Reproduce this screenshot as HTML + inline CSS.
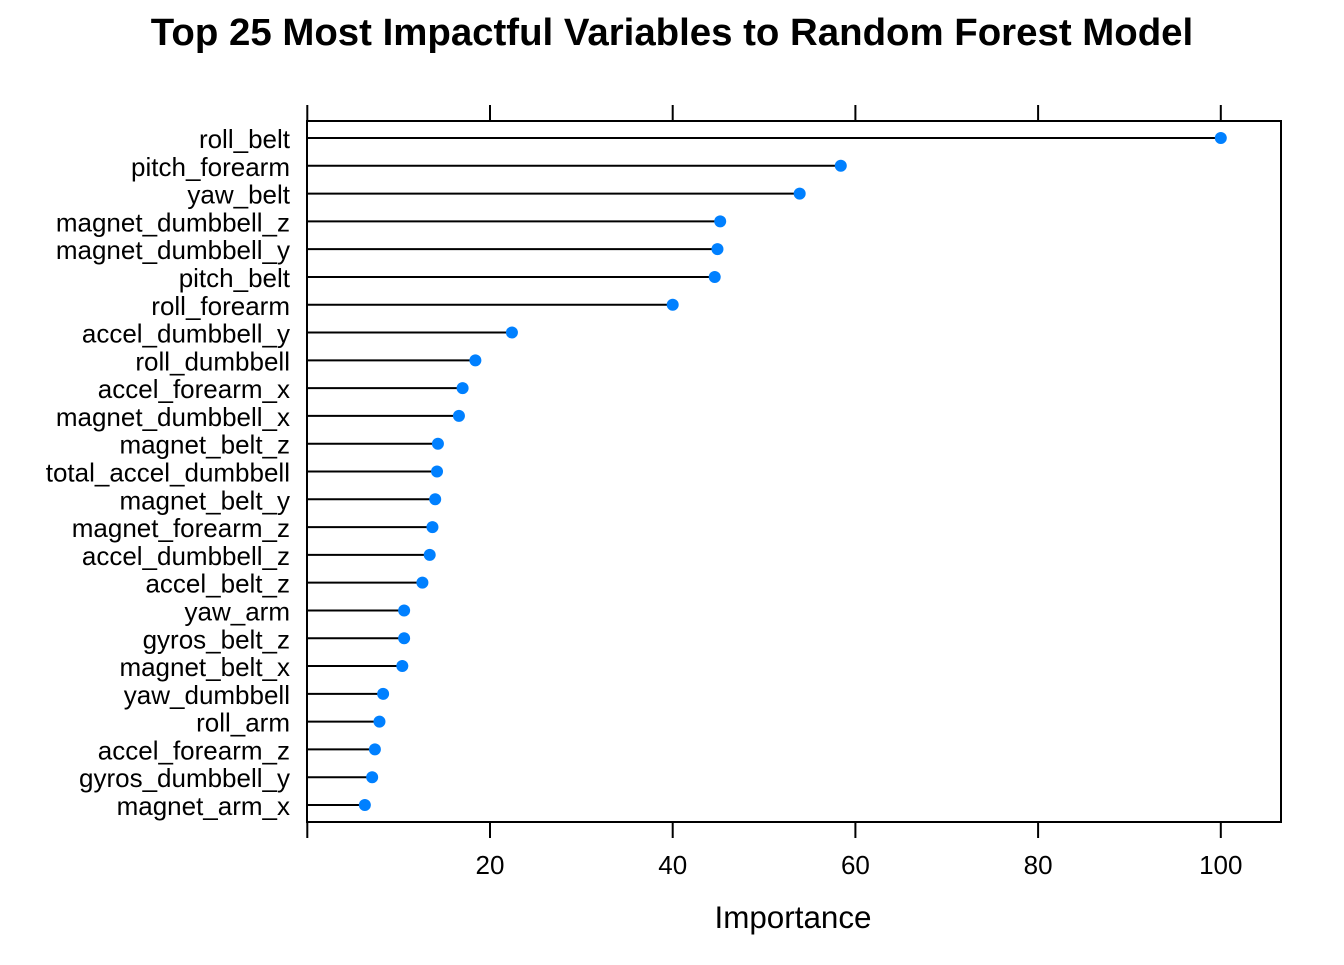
<!DOCTYPE html>
<html><head><meta charset="utf-8"><style>
body{margin:0;background:#fff;}
svg text{font-family:"Liberation Sans",Arial,sans-serif;}
</style></head><body>
<svg id="chart" width="1344" height="960" xmlns="http://www.w3.org/2000/svg">
<text x="672" y="45" text-anchor="middle" font-size="38.4" font-weight="bold">Top 25 Most Impactful Variables to Random Forest Model</text>
<rect x="307" y="121" width="974" height="701" fill="none" stroke="#000" stroke-width="2"/>
<text x="793" y="928" text-anchor="middle" font-size="31.4">Importance</text>
<g id="marks"></g>
</svg>
<script>
const categories=["roll_belt","pitch_forearm","yaw_belt","magnet_dumbbell_z","magnet_dumbbell_y","pitch_belt","roll_forearm","accel_dumbbell_y","roll_dumbbell","accel_forearm_x","magnet_dumbbell_x","magnet_belt_z","total_accel_dumbbell","magnet_belt_y","magnet_forearm_z","accel_dumbbell_z","accel_belt_z","yaw_arm","gyros_belt_z","magnet_belt_x","yaw_dumbbell","roll_arm","accel_forearm_z","gyros_dumbbell_y","magnet_arm_x"];
const values=[100,58.4,53.9,45.2,44.9,44.6,40.0,22.4,18.4,17.0,16.6,14.3,14.2,14.0,13.7,13.4,12.6,10.6,10.6,10.4,8.3,7.9,7.4,7.1,6.3];
const ticks=[0,20,40,60,80,100];
const tickLabels=["","20","40","60","80","100"];
const NS="http://www.w3.org/2000/svg";
const g=document.getElementById('marks');
function xs(v){return 307.3+v*9.135;}
function ys(i){return 138+i*(805-138)/(categories.length-1);}
function mk(t,a){const e=document.createElementNS(NS,t);for(const k in a)e.setAttribute(k,a[k]);g.appendChild(e);return e;}
ticks.forEach((t,i)=>{
  const x=xs(t);
  const a=mk('line',{x1:x,x2:x,y1:105,y2:121,stroke:'#000','stroke-width':2});
  
  
  const b=mk('line',{x1:x,x2:x,y1:822,y2:838,stroke:'#000','stroke-width':2});
  
  
  if(tickLabels[i]){
    const l=mk('text',{x:x,y:874,'text-anchor':'middle','font-size':26});
    l.textContent=tickLabels[i];
    
    
  }
});
categories.forEach((c,i)=>{
  const y=ys(i);
  const l=mk('text',{x:290,y:y+10,'text-anchor':'end','font-size':26});
  l.textContent=c;
  
  
  const ln=mk('line',{x1:307,x2:xs(values[i]),y1:y,y2:y,stroke:'#000','stroke-width':2});
  
  
  const p=mk('circle',{cx:xs(values[i]),cy:y,r:6,fill:'#0080ff'});
  
  
});
</script>
</body></html>
